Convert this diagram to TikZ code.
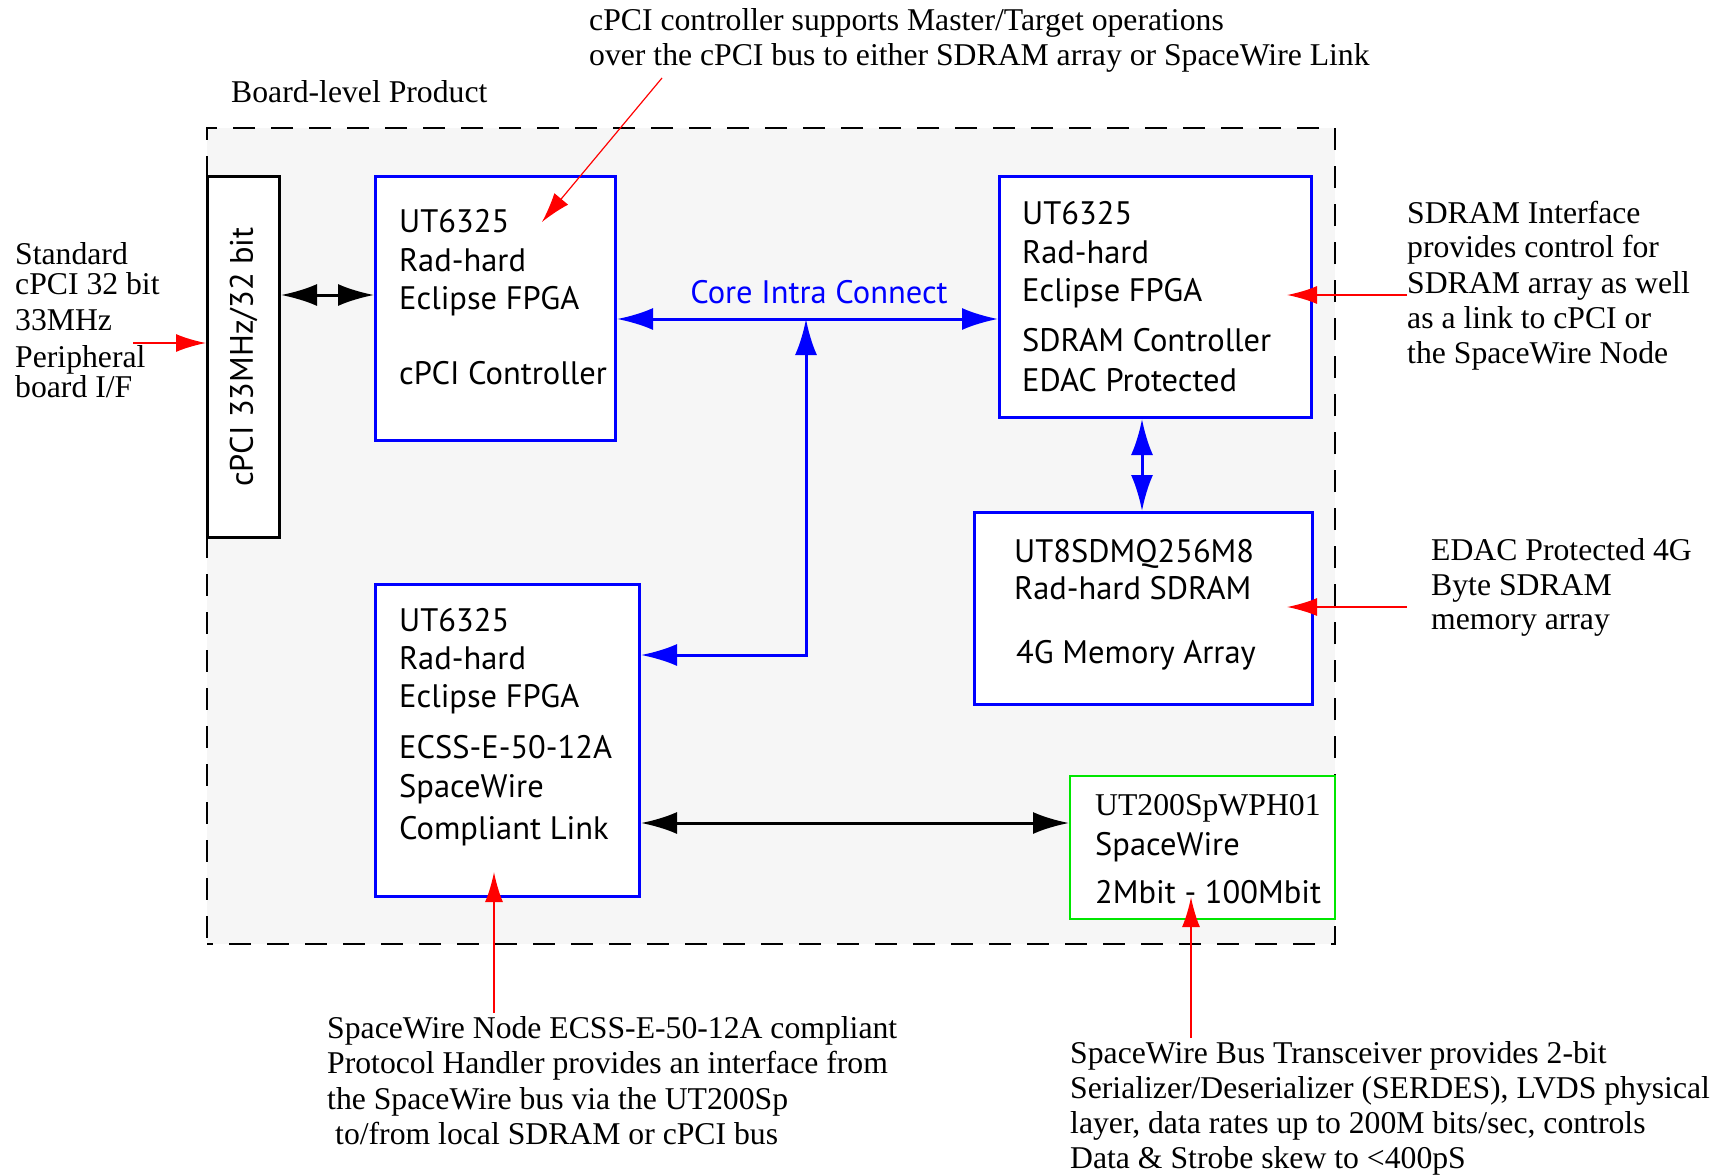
\documentclass[tikz,border=0pt]{standalone}
\usepackage{fontspec}
\setmainfont{Liberation Serif}
\newfontfamily\boxfont{PT Sans}
\usetikzlibrary{arrows.meta,calc}
\definecolor{boardgray}{RGB}{246,246,246}
\definecolor{pureblue}{RGB}{0,0,255}
\definecolor{puregreen}{RGB}{0,230,0}
\definecolor{purered}{RGB}{255,0,0}
\tikzset{
  board/.style={draw=black, line width=2pt, dash pattern=on 22pt off 16pt, dash phase=16pt, fill=boardgray, inner sep=0pt, anchor=north west},
  barbox/.style={draw=black, line width=3pt, fill=white, inner sep=0pt, anchor=north west},
  bluebox/.style={draw=pureblue, line width=3pt, fill=white, inner sep=0pt, anchor=north west},
  greenbox/.style={draw=puregreen, line width=2pt, fill=white, inner sep=0pt, anchor=north west},
  sf/.style={font=\boxfont\fontsize{32.5pt}{38pt}\selectfont, anchor=base west, inner sep=0pt},
  rt/.style={font=\fontsize{31.7pt}{35pt}\selectfont, anchor=base west, inner sep=0pt},
  bigtip/.tip={Latex[length=36pt,width=22pt]},
  redtip/.tip={Latex[length=30pt,width=18pt]},
  blk/.style={draw=black, line width=3pt, bigtip-bigtip},
  bluelink/.style={draw=pureblue, line width=3pt},
  rarr/.style={draw=purered, line width=2pt, -redtip},
}
\begin{document}
\begin{tikzpicture}[x=1pt,y=-1pt]
\useasboundingbox (0,0) rectangle (1735,1175);

% board
\node[board, minimum width=1128pt, minimum height=816pt] (board) at (206,127) {};
\node[rt] (lblboard) at (231,102) {Board-level Product};

% cPCI bar
\node[barbox, minimum width=72pt, minimum height=361pt] (bar) at (206,175) {};
\node[sf, rotate=90, anchor=center] (bartext) at (bar.center) {cPCI 33MHz/32 bit};

% boxes
\node[bluebox, minimum width=240pt, minimum height=264pt] (b1) at (374,175) {};
\node[bluebox, minimum width=312pt, minimum height=241pt] (b2) at (998,175) {};
\node[bluebox, minimum width=338pt, minimum height=192pt] (b3) at (973,511) {};
\node[greenbox, minimum width=265pt, minimum height=143pt] (b4) at (1069,775) {};
\node[bluebox, minimum width=264pt, minimum height=312pt] (b5) at (374,583) {};

% box 1 text
\node[sf] (t1a) at (399,232) {UT6325};
\node[sf] (t1b) at (399,271) {Rad-hard};
\node[sf] (t1c) at (399,309) {Eclipse FPGA};
\node[sf] (t1d) at (399,384) {cPCI Controller};
% box 2 text
\node[sf] (t2a) at (1022,224) {UT6325};
\node[sf] (t2b) at (1022,263) {Rad-hard};
\node[sf] (t2c) at (1022,301) {Eclipse FPGA};
\node[sf] (t2d) at (1022,351) {SDRAM Controller};
\node[sf] (t2e) at (1022,391) {EDAC Protected};
% box 3 text
\node[sf] (t3a) at (1014,562) {UT8SDMQ256M8};
\node[sf] (t3b) at (1014,599) {Rad-hard SDRAM};
\node[sf] (t3c) at (1016,663) {4G Memory Array};
% box 4 text
\node[rt] (t4a) at (1095,815) {UT200SpWPH01};
\node[sf] (t4b) at (1095,855) {SpaceWire};
\node[sf] (t4c) at (1095,903) {2Mbit - 100Mbit};
% box 5 text
\node[sf] (t5a) at (399,631) {UT6325};
\node[sf] (t5b) at (399,669) {Rad-hard};
\node[sf] (t5c) at (399,707) {Eclipse FPGA};
\node[sf] (t5d) at (399,758) {ECSS-E-50-12A};
\node[sf] (t5e) at (399,797) {SpaceWire};
\node[sf] (t5f) at (399,839) {Compliant Link};

% core intra connect
\node[sf, anchor=base, text=pureblue] (core) at (819,303) {Core Intra Connect};

% connectors
\coordinate (ya) at (0,295);
\draw[blk] (bar.east |- ya) -- (b1.west |- ya);
\coordinate (cy) at (0,319);
\draw[bluelink, bigtip-bigtip] (b1.east |- cy) -- (b2.west |- cy);
\coordinate (cj) at (806,319);
\coordinate (ck) at (806,655);
\draw[bluelink, bigtip-bigtip] (cj) -- (ck) -- (b5.east |- ck);
\coordinate (cx) at (1142,0);
\draw[bluelink, bigtip-bigtip] (b2.south -| cx) -- (b3.north -| cx);
\coordinate (cz) at (0,823);
\draw[blk] (b5.east |- cz) -- (b4.west |- cz);

% annotations
\node[rt] (n1a) at (589,30) {cPCI controller supports Master/Target operations};
\node[rt] (n1b) at (589,65) {over the cPCI bus to either SDRAM array or SpaceWire Link};

\node[rt] (n2a) at (15,264) {Standard};
\node[rt] (n2b) at (15,294) {cPCI 32 bit};
\node[rt] (n2c) at (15,330) {33MHz};
\node[rt] (n2d) at (15,367) {Peripheral};
\node[rt] (n2e) at (15,397) {board I/F};

\node[rt] (n3a) at (1407,223) {SDRAM Interface};
\node[rt] (n3b) at (1407,257) {provides control for};
\node[rt] (n3c) at (1407,293) {SDRAM array as well};
\node[rt] (n3d) at (1407,328) {as a link to cPCI or};
\node[rt] (n3e) at (1407,363) {the SpaceWire Node};

\node[rt] (n4a) at (1431,560) {EDAC Protected 4G};
\node[rt] (n4b) at (1431,595) {Byte SDRAM};
\node[rt] (n4c) at (1431,629) {memory array};

\node[rt] (n5a) at (327,1038) {SpaceWire Node ECSS-E-50-12A compliant};
\node[rt] (n5b) at (327,1073) {Protocol Handler provides an interface from};
\node[rt] (n5c) at (327,1109) {the SpaceWire bus via the UT200Sp};
\node[rt] (n5d) at (335,1144) {to/from local SDRAM or cPCI bus};

\node[rt] (n6a) at (1070,1063) {SpaceWire Bus Transceiver provides 2-bit};
\node[rt] (n6b) at (1070,1098) {Serializer/Deserializer (SERDES), LVDS physical};
\node[rt] (n6c) at (1070,1133) {layer, data rates up to 200M bits/sec, controls};
\node[rt] (n6d) at (1070,1168) {Data \& Strobe skew to <400pS};

% red pointer arrows
\coordinate (r1s) at (662,78);
\coordinate (r1e) at (542,222);
\draw[rarr, line width=1.2pt] (r1s) -- (r1e);
\coordinate (r2s) at (133,343);
\draw[rarr] (r2s) -- (bar.west |- r2s);
\coordinate (r3s) at (1407,295);
\coordinate (r3e) at (1287,295);
\draw[rarr] (r3s) -- (r3e);
\coordinate (r4s) at (1407,607);
\coordinate (r4e) at (1287,607);
\draw[rarr] (r4s) -- (r4e);
\coordinate (r5s) at (494,1013);
\coordinate (r5e) at (494,872);
\draw[rarr] (r5s) -- (r5e);
\coordinate (r6s) at (1191,1038);
\coordinate (r6e) at (1191,897);
\draw[rarr] (r6s) -- (r6e);
\end{tikzpicture}
\end{document}
